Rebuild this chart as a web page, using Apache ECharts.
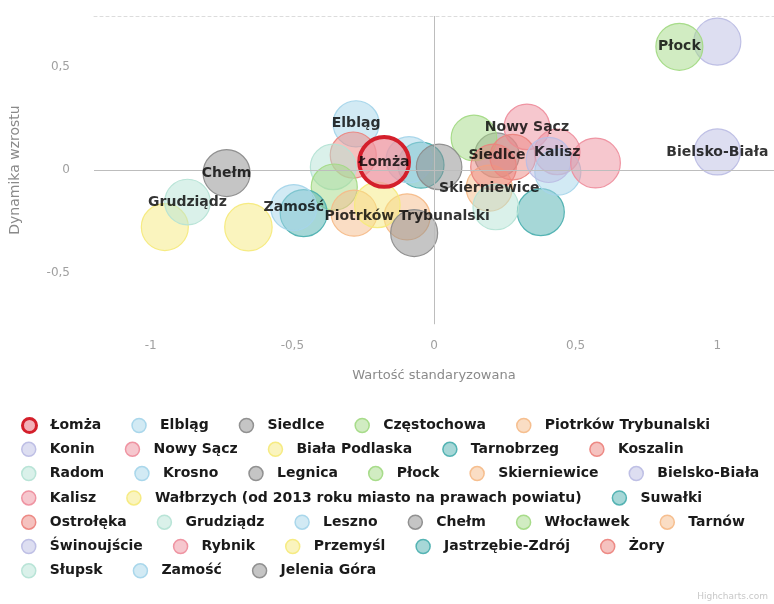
<!DOCTYPE html>
<html>
<head>
<meta charset="utf-8">
<script src="https://cdn.jsdelivr.net/npm/echarts@6/dist/echarts.min.js"></script>
<style>
  html, body { margin: 0; padding: 0; background: #fff; }
  #chart { width: 774px; height: 604px; }
</style>
</head>
<body>
<div id="chart"></div>
<script>
// Cities, in legend order
const cities = [
  'Łomża', 'Elbląg', 'Siedlce', 'Częstochowa', 'Piotrków Trybunalski',
  'Konin', 'Nowy Sącz', 'Biała Podlaska', 'Tarnobrzeg', 'Koszalin',
  'Radom', 'Krosno', 'Legnica', 'Płock', 'Skierniewice', 'Bielsko-Biała',
  'Kalisz', 'Wałbrzych (od 2013 roku miasto na prawach powiatu)', 'Suwałki',
  'Ostrołęka', 'Grudziądz', 'Leszno', 'Chełm', 'Włocławek', 'Tarnów',
  'Świnoujście', 'Rybnik', 'Przemyśl', 'Jastrzębie-Zdrój', 'Żory',
  'Słupsk', 'Zamość', 'Jelenia Góra'
];
// Standardised value (x)
const standardised = [
  -0.176, -0.275, 0.222, 0.141, -0.095,
  1.000, 0.328, -0.950, -0.046, -0.285,
  -0.356, -0.088, 0.018, 0.866, 0.195, 1.000,
  0.435, -0.655, 0.377,
  0.278, -0.870, 0.437, -0.732, -0.352, -0.282,
  0.405, 0.570, -0.200, -0.460, 0.210,
  0.218, -0.495, -0.070
];
// Growth dynamics (y)
const growth = [
  0.039, 0.225, 0.072, 0.156, -0.228,
  0.625, 0.210, -0.278, 0.024, 0.073,
  0.015, 0.050, 0.015, 0.600, -0.088, 0.088,
  0.088, -0.278, -0.205,
  0.063, -0.156, -0.010, -0.015, -0.083, -0.210,
  0.049, 0.034, -0.170, -0.210, 0.015,
  -0.180, -0.183, -0.307
];
// Relative bubble weight
const weight = [
  1.12, 0.96, 0.90, 0.94, 0.96,
  1.00, 0.94, 1.00, 0.96, 0.96,
  0.94, 0.96, 0.94, 1.00, 0.96, 0.96,
  0.94, 1.02, 1.00,
  0.94, 0.94, 0.96, 1.00, 0.96, 0.96,
  0.92, 1.12, 0.94, 1.00, 0.94,
  0.94, 0.96, 1.00
];
// Cities whose names are written on the bubbles
const labelled = [
  'Płock', 'Nowy Sącz', 'Elbląg', 'Łomża', 'Siedlce', 'Kalisz',
  'Bielsko-Biała', 'Chełm', 'Skierniewice', 'Grudziądz', 'Zamość',
  'Piotrków Trybunalski'
];
// Number of legend entries on each legend line
const legendLineCounts = [5, 5, 6, 3, 6, 5, 3];
const highlighted = 'Łomża';

// Colour cycle (series index mod 10)
const cycle = [
  [181, 227, 213], // mint
  [165, 213, 234], // light blue
  [140, 140, 140], // grey
  [163, 218, 133], // green
  [246, 188, 138], // orange
  [188, 189, 228], // lavender
  [238, 143, 158], // pink
  [246, 234, 125], // yellow
  [77, 176, 176],  // teal
  [236, 133, 128]  // red
];
const rgba = (c, a) => `rgba(${c[0]},${c[1]},${c[2]},${a})`;

const bubbleDiameter = w => 47 * Math.sqrt(w);

const bubbleSeries = cities.map((name, i) => {
  const isHi = name === highlighted;
  const c = cycle[i % 10];
  return {
    name,
    type: 'scatter',
    z: 2,
    data: [[standardised[i], growth[i], weight[i]]],
    symbol: 'circle',
    symbolSize: d => bubbleDiameter(d[2]),
    itemStyle: isHi
      ? { color: 'rgba(238,150,160,0.75)', borderColor: '#d41f2b', borderWidth: 4, opacity: 1 }
      : { color: rgba(c, 0.5), borderColor: rgba(c, 0.95), borderWidth: 1.2, opacity: 1 },
    emphasis: { disabled: true },
    silent: true
  };
});
// Highlighted city drawn on top of the rest
bubbleSeries.sort((a, b) => (a.name === highlighted) - (b.name === highlighted));

const labelData = labelled.map(n => {
  const i = cities.indexOf(n);
  return { name: n, value: [standardised[i], growth[i]] };
});

const legendTextStyle = {
  fontFamily: 'DejaVu Sans',
  fontWeight: 'bold',
  fontSize: 14,
  color: '#1a1a1a',
  lineHeight: 16
};

const legends = [];
let start = 0;
legendLineCounts.forEach((count, r) => {
  legends.push({
    left: 21,
    top: 417 + r * 24.3,
    orient: 'horizontal',
    padding: 0,
    itemWidth: 32,
    itemHeight: 14,
    itemGap: 30,
    icon: 'circle',
    selectedMode: false,
    textStyle: legendTextStyle,
    data: cities.slice(start, start + count).map(n =>
      n === highlighted ? { name: n, itemStyle: { borderWidth: 3 } } : { name: n, itemStyle: { borderWidth: 1.5 } })
  });
  start += count;
});

const fmt = v => {
  if (Math.abs(v * 2 - Math.round(v * 2)) > 1e-6) return '';
  const r = Math.round(v * 2) / 2;
  return r === 0 ? '0' : String(r).replace('.', ',');
};

const axisLabelStyle = { fontFamily: 'DejaVu Sans', fontSize: 12, color: '#a0a0a0' };

const option = {
  animation: false,
  backgroundColor: '#ffffff',
  grid: { left: 91, right: 0, top: 16, bottom: 280 },
  legend: legends,
  xAxis: [{
    type: 'value',
    min: -1.2, max: 1.2, interval: 0.1,
    name: 'Wartość standaryzowana',
    nameLocation: 'middle',
    nameGap: 45,
    nameTextStyle: { fontFamily: 'DejaVu Sans', fontSize: 13, color: '#8a8a8a' },
    axisLine: { show: false },
    axisTick: { show: false },
    splitLine: { show: false },
    axisLabel: Object.assign({ formatter: fmt, margin: 16, showMinLabel: false, showMaxLabel: false }, axisLabelStyle)
  }, {
    type: 'value',
    position: 'top',
    min: -1.2, max: 1.2, interval: 0.1,
    axisLine: { show: true, lineStyle: { color: '#dcdcdc', type: [3, 3], width: 1 } },
    axisTick: { show: false },
    axisLabel: { show: false },
    splitLine: { show: false }
  }],
  yAxis: {
    type: 'value',
    min: -0.75, max: 0.75, interval: 0.25,
    name: 'Dynamika wzrostu',
    nameLocation: 'middle',
    nameGap: 72,
    nameRotate: 90,
    nameTextStyle: { fontFamily: 'DejaVu Sans', fontSize: 14, color: '#8a8a8a' },
    axisLine: { show: true, lineStyle: { color: '#dcdcdc', type: 'dotted', width: 1 } },
    axisTick: { show: false },
    splitLine: { show: false },
    axisLabel: Object.assign({ formatter: fmt, margin: 24 }, axisLabelStyle)
  },
  series: [
    {
      name: 'zero lines',
      type: 'line',
      data: [],
      z: 1,
      silent: true,
      markLine: {
        silent: true,
        symbol: 'none',
        label: { show: false },
        lineStyle: { color: '#bdbdbd', type: 'solid', width: 1 },
        data: [{ xAxis: 0 }, { yAxis: 0 }]
      }
    },
    ...bubbleSeries,
    {
      name: 'city names',
      type: 'scatter',
      z: 10,
      silent: true,
      symbolSize: 0,
      data: labelData,
      label: {
        show: true,
        position: 'inside',
        formatter: p => p.name,
        fontFamily: 'DejaVu Sans',
        fontWeight: 'bold',
        fontSize: 14,
        color: '#000',
        textBorderWidth: 0
      }
    }
  ],
  graphic: [{
    type: 'text',
    right: 6,
    bottom: 3,
    style: { text: 'Highcharts.com', fontFamily: 'DejaVu Sans', fontSize: 9, fill: '#c8c8c8' }
  }]
};

const chart = echarts.init(document.getElementById('chart'), null, { renderer: 'canvas' });
chart.setOption(option);
</script>
</body>
</html>
